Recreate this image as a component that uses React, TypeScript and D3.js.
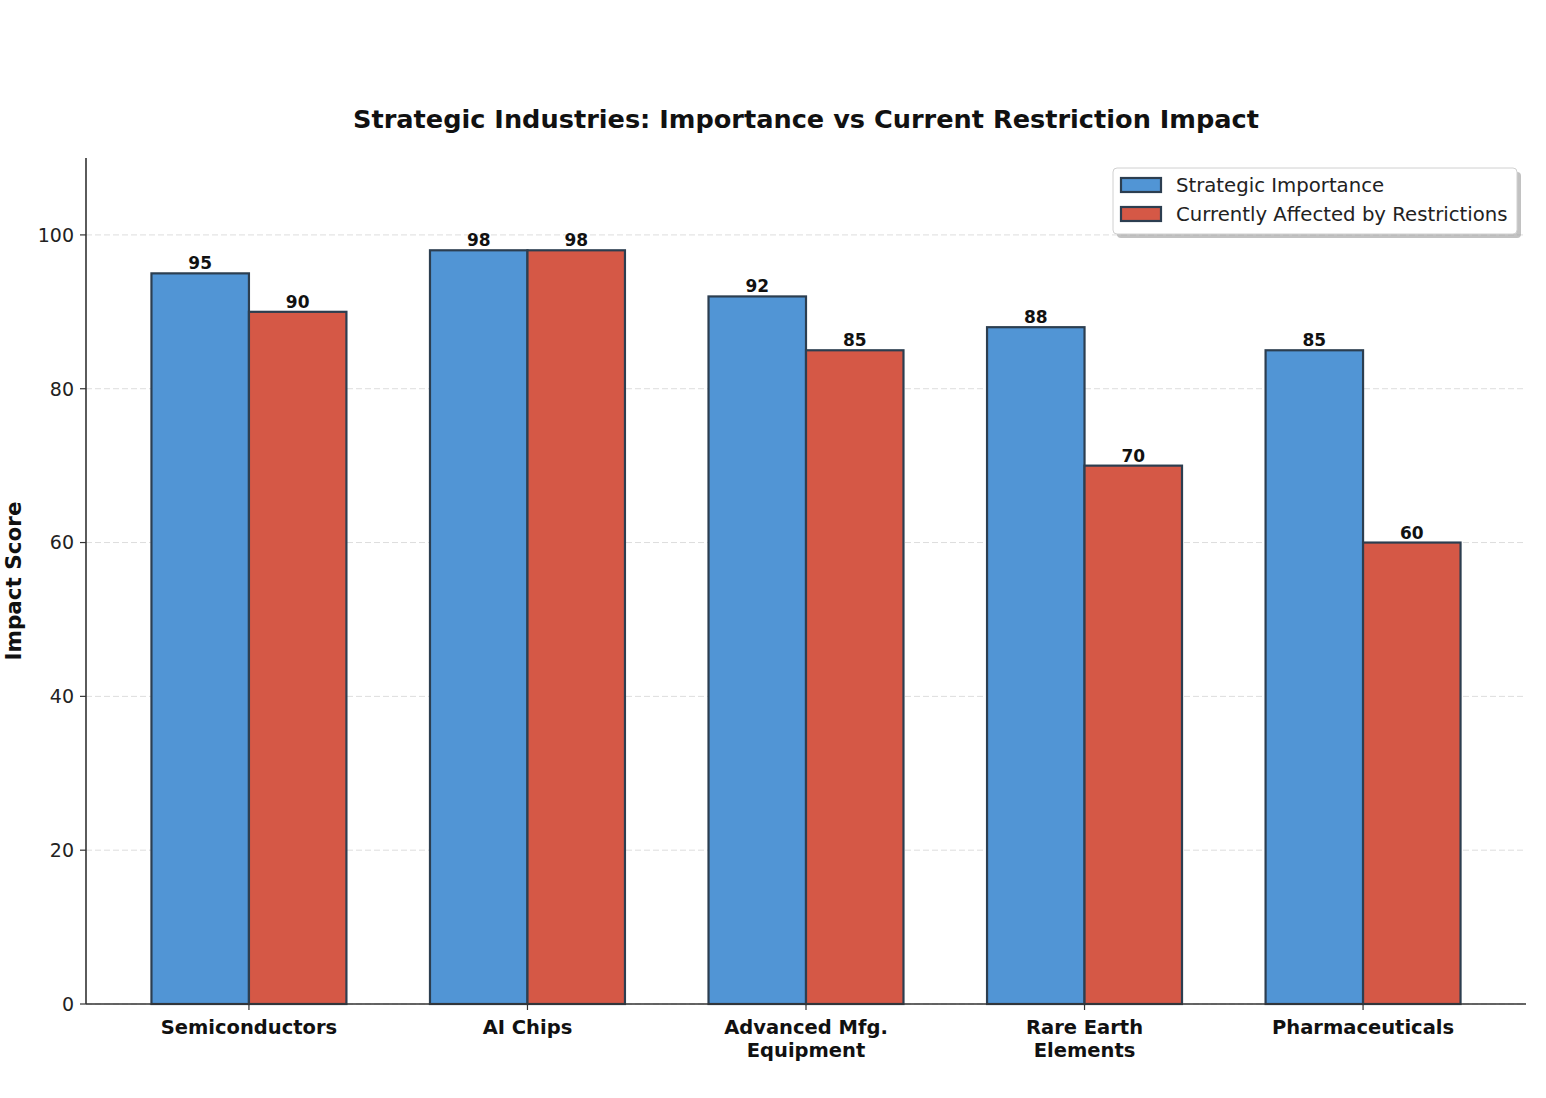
import { useEffect, useRef } from 'react';
import * as d3 from 'd3';

const categories = ['Semiconductors', 'AI Chips', 'Advanced Mfg.\nEquipment', 'Rare Earth\nElements', 'Pharmaceuticals'];
const importance = [95, 98, 92, 88, 85];
const affected = [90, 98, 85, 70, 60];
const seriesNames = ['Strategic Importance', 'Currently Affected by Restrictions'];
const seriesColors = ['#5195d5', '#d55846'];
const yTicks = [0, 20, 40, 60, 80, 100];

const App = () => {
  const ref = useRef<SVGSVGElement>(null);

  useEffect(() => {
    document.body.style.margin = '0';
    if (!ref.current) return;
    const svg = d3.select(ref.current);
    svg.selectAll('*').remove();

    const width = 1546;
    const height = 1098;
    const left = 86, right = 1526, top = 158, bottom = 1004;
    const font = 'DejaVu Sans, sans-serif';
    const edge = '#2c3e50';
    const barW = 0.35;

    const x = d3.scaleLinear().domain([-0.585, categories.length - 1 + 0.585]).range([left, right]);
    const y = d3.scaleLinear().domain([0, 110]).range([bottom, top]);

    svg.attr('width', width).attr('height', height);
    svg.append('rect').attr('width', width).attr('height', height).attr('fill', 'white');

    // grid
    svg.append('g')
      .selectAll('line')
      .data(yTicks)
      .join('line')
      .attr('x1', left).attr('x2', right)
      .attr('y1', d => y(d)).attr('y2', d => y(d))
      .attr('stroke', '#dddddd')
      .attr('stroke-width', 1)
      .attr('stroke-dasharray', '6,3');

    // bars
    const series = [importance, affected];
    series.forEach((vals, si) => {
      const offset = si === 0 ? -barW / 2 : barW / 2;
      const g = svg.append('g');
      g.selectAll('rect')
        .data(vals)
        .join('rect')
        .attr('x', (_, i) => x(i + offset - barW / 2))
        .attr('width', x(barW) - x(0))
        .attr('y', d => y(d))
        .attr('height', d => y(0) - y(d))
        .attr('fill', seriesColors[si])
        .attr('stroke', edge)
        .attr('stroke-width', 2.2);
      g.selectAll('text')
        .data(vals)
        .join('text')
        .attr('x', (_, i) => x(i + offset))
        .attr('y', d => y(d) - 4)
        .attr('text-anchor', 'middle')
        .attr('font-family', font)
        .attr('font-weight', 'bold')
        .attr('font-size', 17)
        .attr('fill', '#111')
        .text(d => d);
    });

    // spines
    svg.append('line').attr('x1', left).attr('x2', left).attr('y1', top).attr('y2', bottom)
      .attr('stroke', '#333').attr('stroke-width', 1.6);
    svg.append('line').attr('x1', left).attr('x2', right).attr('y1', bottom).attr('y2', bottom)
      .attr('stroke', '#333').attr('stroke-width', 1.6);

    // y ticks
    const yt = svg.append('g');
    yt.selectAll('line').data(yTicks).join('line')
      .attr('x1', left - 6).attr('x2', left)
      .attr('y1', d => y(d)).attr('y2', d => y(d))
      .attr('stroke', '#333').attr('stroke-width', 1.2);
    yt.selectAll('text').data(yTicks).join('text')
      .attr('x', left - 12).attr('y', d => y(d))
      .attr('dy', '0.36em')
      .attr('text-anchor', 'end')
      .attr('font-family', font)
      .attr('font-size', 19)
      .attr('fill', '#222')
      .text(d => d);

    // x ticks
    const xt = svg.append('g');
    xt.selectAll('line').data(categories).join('line')
      .attr('x1', (_, i) => x(i)).attr('x2', (_, i) => x(i))
      .attr('y1', bottom).attr('y2', bottom + 6)
      .attr('stroke', '#333').attr('stroke-width', 1.2);
    xt.selectAll('text').data(categories).join('text')
      .attr('x', (_, i) => x(i)).attr('y', bottom + 30)
      .attr('text-anchor', 'middle')
      .attr('font-family', font)
      .attr('font-weight', 'bold')
      .attr('font-size', 19.5)
      .attr('fill', '#111')
      .each(function (d) {
        const t = d3.select(this);
        d.split('\n').forEach((line, li) => {
          t.append('tspan').attr('x', t.attr('x')).attr('dy', li === 0 ? 0 : 23).text(line);
        });
      });

    // y label
    svg.append('text')
      .attr('transform', `translate(21,${(top + bottom) / 2}) rotate(-90)`)
      .attr('text-anchor', 'middle')
      .attr('font-family', font)
      .attr('font-weight', 'bold')
      .attr('font-size', 21.5)
      .attr('fill', '#111')
      .text('Impact Score');

    // title
    svg.append('text')
      .attr('x', (left + right) / 2).attr('y', 128)
      .attr('text-anchor', 'middle')
      .attr('font-family', font)
      .attr('font-weight', 'bold')
      .attr('font-size', 25.6)
      .attr('fill', '#111')
      .text('Strategic Industries: Importance vs Current Restriction Impact');

    // legend
    const lg = svg.append('g').attr('transform', 'translate(1113,168)');
    lg.append('rect').attr('x', 4).attr('y', 4).attr('width', 404).attr('height', 66)
      .attr('rx', 4).attr('fill', '#999').attr('opacity', 0.6);
    lg.append('rect').attr('width', 404).attr('height', 66)
      .attr('rx', 4).attr('fill', 'white').attr('stroke', '#d0d0d0').attr('stroke-width', 1);
    seriesNames.forEach((name, i) => {
      const ry = 17 + i * 29;
      lg.append('rect').attr('x', 8).attr('y', ry - 7).attr('width', 40).attr('height', 14)
        .attr('fill', seriesColors[i]).attr('stroke', edge).attr('stroke-width', 2.2);
      lg.append('text').attr('x', 63).attr('y', ry).attr('dy', '0.36em')
        .attr('font-family', font).attr('font-size', 19.7).attr('fill', '#222')
        .text(name);
    });
  }, []);

  return <svg ref={ref} style={{ display: 'block' }} />;
};

export default App;
